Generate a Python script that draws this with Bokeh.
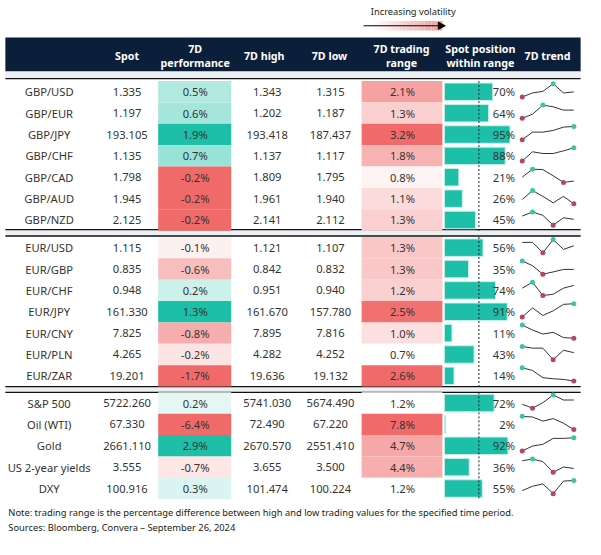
import numpy as np
from bokeh.plotting import figure
from bokeh.models import Range1d, ColumnDataSource, Arrow, NormalHead
from bokeh.embed import file_html
from bokeh.resources import INLINE
from bokeh.core.properties import value

# ---------------- data ----------------
names = ["GBP/USD", "GBP/EUR", "GBP/JPY", "GBP/CHF", "GBP/CAD", "GBP/AUD", "GBP/NZD",
         "EUR/USD", "EUR/GBP", "EUR/CHF", "EUR/JPY", "EUR/CNY", "EUR/PLN", "EUR/ZAR",
         "S&P 500", "Oil (WTI)", "Gold", "US 2-year yields", "DXY"]
group = [0] * 7 + [1] * 7 + [2] * 5
spot = [1.335, 1.197, 193.105, 1.135, 1.798, 1.945, 2.125,
        1.115, 0.835, 0.948, 161.330, 7.825, 4.265, 19.201,
        5722.260, 67.330, 2661.110, 3.555, 100.916]
perf = [0.5, 0.6, 1.9, 0.7, -0.2, -0.2, -0.2,
        -0.1, -0.6, 0.2, 1.3, -0.8, -0.2, -1.7,
        0.2, -6.4, 2.9, -0.7, 0.3]
high = [1.343, 1.202, 193.418, 1.137, 1.809, 1.961, 2.141,
        1.121, 0.842, 0.951, 161.670, 7.895, 4.282, 19.636,
        5741.030, 72.490, 2670.570, 3.655, 101.474]
low = [1.315, 1.187, 187.437, 1.117, 1.795, 1.940, 2.112,
       1.107, 0.832, 0.940, 157.780, 7.816, 4.252, 19.132,
       5674.490, 67.220, 2551.410, 3.500, 100.224]
trading_range = [2.1, 1.3, 3.2, 1.8, 0.8, 1.1, 1.3,
                 1.3, 1.3, 1.2, 2.5, 1.0, 0.7, 2.6,
                 1.2, 7.8, 4.7, 4.4, 1.2]
position = [70, 64, 95, 88, 21, 26, 45,
            56, 35, 74, 91, 11, 43, 14,
            72, 2, 92, 36, 55]
trend = [
    [0, 30, 42, 100, 30, 38],
    [0, 31, 100, 87, 62, 62],
    [0, 57, 57, 70, 95, 100],
    [0, 70, 57, 57, 77, 100],
    [40, 100, 97, 50, 0, 10],
    [32, 100, 56, 7, 56, 0],
    [69, 100, 74, 0, 56, 44],
    [79, 79, 0, 100, 26, 53],
    [100, 64, 0, 17, 36, 36],
    [56, 100, 0, 10, 56, 77],
    [0, 68, 11, 46, 95, 100],
    [100, 62, 32, 45, 5, 0],
    [100, 87, 87, 0, 71, 53],
    [100, 80, 25, 17, 12, 0],
    [30, 0, 42, 100, 62, 62],
    [100, 95, 64, 83, 48, 0],
    [0, 37, 50, 95, 95, 100],
    [88, 100, 81, 0, 40, 29],
    [23, 56, 74, 0, 95, 100],
]
header_lines = [["Spot"], ["7D", "performance"], ["7D high"], ["7D low"],
                ["7D trading", "range"], ["Spot position", "within range"], ["7D trend"]]

# ---------------- layout (reference pixel coordinates) ----------------
FONT = value("Noto Sans")
TEAL = (29, 191, 166)
RED = (240, 106, 106)
ROW_H = 22
group_top = [83, 243.5, 403.5]
col_name, col_spot, col_perf, col_high, col_low, col_rng = 50, 130, 200, 274, 339, 413
perf_l, perf_r = 162, 237
rng_l, rng_r = 371, 454
bar_l, bar_w = 456, 71
spark_l, spark_r = 536, 589
header_x = [130, 200, 271, 338, 412, 493, 562]


def mix(c, t):
    t = max(0.0, min(1.0, t))
    r = [int(round(255 + (ci - 255) * t)) for ci in c]
    return "#%02x%02x%02x" % tuple(r)


n = len(names)
idx_in_group = []
counts = {}
for g in group:
    idx_in_group.append(counts.get(g, 0))
    counts[g] = counts.get(g, 0) + 1
yc = [group_top[g] + ROW_H * k + ROW_H / 2 for g, k in zip(group, idx_in_group)]

# colours computed per group from the values
perf_col, rng_col = [], []
for i in range(n):
    g = group[i]
    gp = [perf[j] for j in range(n) if group[j] == g]
    gr = [trading_range[j] for j in range(n) if group[j] == g]
    v = perf[i]
    if v >= 0:
        perf_col.append(mix(TEAL, (v / max(gp)) ** 0.8))
    else:
        perf_col.append(mix(RED, (v / min(gp)) ** 0.8))
    t = (trading_range[i] - min(gr)) / (max(gr) - min(gr))
    rng_col.append(mix(RED, 0.08 + 0.92 * t ** 0.85 if g == 0 else t ** 0.85))

p = figure(width=585, height=539, x_range=Range1d(0, 601), y_range=Range1d(555, 0),
           output_backend="svg", toolbar_location=None, min_border=0)
p.axis.visible = False
p.grid.visible = False
p.outline_line_color = None
p.background_fill_color = "white"
p.border_fill_color = "white"

# header band + strips
p.quad(left=[5], right=[596], top=[38], bottom=[73], fill_color="#0b1f3a", line_color=None)
p.quad(left=[5, 5, 5], right=[596, 596, 596], top=[73, 236, 397.5], bottom=[80, 242.5, 403],
       fill_color="#edf0f3", line_color=None)
p.segment(x0=[5] * 5, x1=[596] * 5, y0=[80.5, 236, 242.5, 397.5, 403.5],
          y1=[80.5, 236, 242.5, 397.5, 403.5], line_color="#111111", line_width=1.3)

src = ColumnDataSource(dict(
    name=names, y=yc, ytop=[y - ROW_H / 2 for y in yc], ybot=[y + ROW_H / 2 for y in yc],
    btop=[y - 9 for y in yc], bbot=[y + 9 for y in yc],
    spot=[f"{v:.3f}" for v in spot], high=[f"{v:.3f}" for v in high], low=[f"{v:.3f}" for v in low],
    perf=[f"{v:.1f}%" for v in perf], rng=[f"{v:.1f}%" for v in trading_range],
    pos=[f"{v}%" for v in position], pcol=perf_col, rcol=rng_col,
    bright=[bar_l + bar_w * v / 100 for v in position],
))

p.quad(left=perf_l, right=perf_r, top="ytop", bottom="ybot", fill_color="pcol", line_color=None, source=src)
p.quad(left=rng_l, right=rng_r, top="ytop", bottom="ybot", fill_color="rcol", line_color=None, source=src)
p.quad(left=bar_l, right="bright", top="btop", bottom="bbot", fill_color="#1dbfa8",
       line_color="#c8efe9", line_width=1, source=src)

# 50% dotted reference line per group
for g in range(3):
    top = group_top[g]
    bot = top + ROW_H * counts[g]
    p.segment(x0=[bar_l + bar_w * 0.5], x1=[bar_l + bar_w * 0.5], y0=[top], y1=[bot],
              line_color="#222222", line_width=1, line_dash="2 2")

txt = dict(text_font=FONT, text_font_size="11.2px", text_color="#333333", text_baseline="middle",
           source=src)
p.text(x=col_name, y="y", text="name", text_align="center", **txt)
p.text(x=col_spot, y="y", text="spot", text_align="center", **txt)
p.text(x=col_perf, y="y", text="perf", text_align="center", **txt)
p.text(x=col_high, y="y", text="high", text_align="center", **txt)
p.text(x=col_low, y="y", text="low", text_align="center", **txt)
p.text(x=col_rng, y="y", text="rng", text_align="center", **txt)
p.text(x=bar_l + bar_w + 1.5, y="y", text="pos", text_align="right", **txt)

# header texts
hx, hy, ht = [], [], []
for x, lines in zip(header_x, header_lines):
    if len(lines) == 1:
        hx.append(x); hy.append(57); ht.append(lines[0])
    else:
        hx += [x, x]; hy += [50, 64]; ht += lines
p.text(x=hx, y=hy, text=ht, text_align="center", text_baseline="middle", text_font=FONT,
       text_font_size="10.7px", text_font_style="bold", text_color="white")

# sparklines
xs, ys, gx, gy, rx, ry = [], [], [], [], [], []
for i in range(n):
    vals = np.array(trend[i], dtype=float)
    nv = (vals - vals.min()) / (vals.max() - vals.min())
    px = np.linspace(spark_l, spark_r, len(vals))
    py = yc[i] - 1.5 + 6.8 - nv * 13.6
    xs.append(list(px)); ys.append(list(py))
    gx.append(px[vals.argmax()]); gy.append(py[vals.argmax()])
    rx.append(px[vals.argmin()]); ry.append(py[vals.argmin()])
p.multi_line(xs=xs, ys=ys, line_color="#333333", line_width=1)
p.scatter(x=gx, y=gy, size=5, fill_color="#3cc4a6", line_color=None)
p.scatter(x=rx, y=ry, size=5, fill_color="#b4465f", line_color=None)

# volatility legend
steps = 20
gl = np.linspace(380, 454, steps + 1)
p.quad(left=gl[:-1], right=gl[1:], top=21, bottom=31,
       fill_color=[mix((232, 120, 120), 0.75 * k / steps) for k in range(steps)], line_color=None)
p.add_layout(Arrow(end=NormalHead(size=7, fill_color="black", line_color="black"),
                   x_start=373, y_start=26, x_end=457, y_end=26, line_color="black", line_width=1))
p.text(x=[424], y=[11], text=["Increasing volatility"], text_align="center", text_baseline="middle",
       text_font=FONT, text_font_size="9.3px", text_color="#222222")

# notes
p.text(x=[8, 8], y=[527, 543],
       text=["Note: trading range is the percentage difference between high and low trading values for the specified time period.",
             "Sources: Bloomberg, Convera \u2013 September 26, 2024"],
       text_align="left", text_baseline="middle", text_font=FONT, text_font_size="9.35px",
       text_color="#222222")

open("out.html", "w").write(file_html(p, INLINE))
